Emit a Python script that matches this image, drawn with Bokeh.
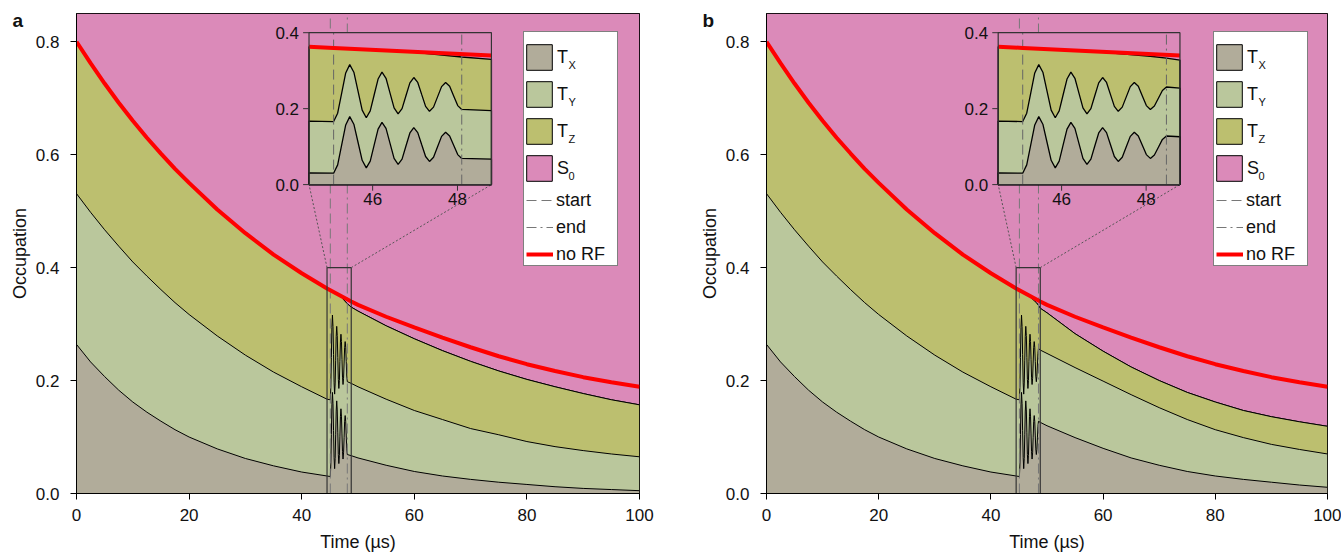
from bokeh.plotting import figure
from bokeh.layouts import row
from bokeh.models import Range1d, Legend, LegendItem, NumeralTickFormatter, FixedTicker
from bokeh.core.properties import value
from bokeh.embed import file_html
from bokeh.resources import INLINE

# ---------------- data ----------------
# before the RF pulse (shared by both panels); boundaries are cumulative tops
t_pre = [0, 2.5, 5, 7.5, 10, 12.5, 15, 17.5, 20, 25, 30, 35, 40, 44.5, 45.08]
tx_pre = [0.264, 0.233, 0.207, 0.183, 0.162, 0.144, 0.128, 0.113, 0.100, 0.079, 0.062, 0.049, 0.038, 0.031, 0.030]
ty_pre = [0.531, 0.498, 0.467, 0.438, 0.410, 0.385, 0.361, 0.338, 0.317, 0.279, 0.245, 0.215, 0.189, 0.167, 0.166]
tz_pre = [0.800, 0.762, 0.726, 0.692, 0.660, 0.630, 0.602, 0.575, 0.550, 0.503, 0.461, 0.423, 0.390, 0.363, 0.360]

# during the RF pulse (shared oscillation)
t_pulse = [45.175, 45.27, 45.365, 45.46, 45.557, 45.655, 45.753, 45.85, 45.943, 46.035, 46.128, 46.22,
           46.315, 46.41, 46.505, 46.60, 46.693, 46.785, 46.878, 46.97, 47.063, 47.155, 47.248, 47.34,
           47.435, 47.53, 47.625, 47.72, 47.815, 47.91, 48.005, 48.10]
ty_pulse = [0.188, 0.241, 0.294, 0.316, 0.296, 0.246, 0.196, 0.176, 0.194, 0.236, 0.278, 0.296,
            0.280, 0.241, 0.202, 0.186, 0.200, 0.234, 0.268, 0.282, 0.269, 0.2375, 0.206, 0.193,
            0.204, 0.231, 0.258, 0.269, 0.259, 0.2335, 0.208, 0.198]
tx_pulse = [0.052, 0.1045, 0.157, 0.179, 0.159, 0.1115, 0.064, 0.044, 0.062, 0.104, 0.146, 0.164,
            0.148, 0.1085, 0.069, 0.053, 0.067, 0.1015, 0.136, 0.150, 0.137, 0.1055, 0.074, 0.061,
            0.072, 0.0995, 0.127, 0.138, 0.128, 0.1035, 0.079, 0.069]
# panel b pulse lasts a little longer
t_pulse_b = [48.195, 48.29, 48.385, 48.48]
ty_pulse_b = [0.207, 0.2275, 0.248, 0.257]
tx_pulse_b = [0.078, 0.0985, 0.119, 0.128]

t_tz_mid_a = [46.0, 47.0, 48.1]
tz_mid_a = [0.355, 0.348, 0.336]
t_tz_mid_b = [46.0, 47.0, 48.1, 48.48]
tz_mid_b = [0.355, 0.348, 0.338, 0.333]

# after the pulse
t_post = [48.8, 50, 55, 60, 65, 70, 75, 80, 85, 90, 95, 100]
tx_post_a = [0.067, 0.063, 0.050, 0.039, 0.031, 0.025, 0.020, 0.016, 0.012, 0.009, 0.007, 0.005]
ty_post_a = [0.195, 0.189, 0.167, 0.147, 0.131, 0.115, 0.104, 0.092, 0.083, 0.076, 0.070, 0.065]
tz_post_a = [0.330, 0.323, 0.297, 0.274, 0.253, 0.234, 0.217, 0.202, 0.189, 0.177, 0.166, 0.157]
tx_post_b = [0.126, 0.120, 0.099, 0.080, 0.063, 0.050, 0.039, 0.031, 0.025, 0.020, 0.015, 0.011]
ty_post_b = [0.254, 0.248, 0.223, 0.199, 0.175, 0.152, 0.131, 0.113, 0.099, 0.087, 0.078, 0.070]
tz_post_b = [0.328, 0.320, 0.283, 0.252, 0.224, 0.200, 0.179, 0.162, 0.147, 0.136, 0.127, 0.119]

# "no RF" reference decay
t_norf = [0, 2.5, 5, 7.5, 10, 12.5, 15, 17.5, 20, 25, 30, 35, 40, 44.5, 45.08,
          48.8, 50, 55, 60, 65, 70, 75, 80, 85, 90, 95, 100]
norf = [0.800, 0.762, 0.726, 0.692, 0.660, 0.630, 0.602, 0.575, 0.550, 0.503, 0.461, 0.423, 0.390, 0.363, 0.360,
        0.340, 0.334, 0.313, 0.294, 0.276, 0.259, 0.243, 0.229, 0.217, 0.206, 0.197, 0.189]

pulse_start = {"a": 45.08, "b": 45.08}
pulse_end = {"a": 48.10, "b": 48.48}

x_ticks = [0, 20, 40, 60, 80, 100]
y_ticks = [0.0, 0.2, 0.4, 0.6, 0.8]
inset_x_ticks = [46, 48]
inset_y_ticks = [0.0, 0.2, 0.4]
inset_y_labels = ["0.0", "0.2", "0.4"]
state_letters = ["T", "T", "T", "S"]
state_subscripts = ["X", "Y", "Z", "0"]

# ---------------- style / layout ----------------
PINK = "#DB8AB9"
OLIVE = "#BCBF6F"
LGREEN = "#BAC79C"
GRAY = "#B1AC9A"
RED = "#FF0000"
FONT = "Liberation Sans"
Y_MAX = 0.85
INSET_X = (44.5, 48.8)
INSET_Y = (0.0, 0.4)
INSET_TX = (41.3, 73.7)
INSET_TY = (0.547, 0.816)
FRAME_H = 480
# legend geometry (pixels, relative to the frame)
BOX_X, BOX_TOP, BOX_W, BOX_H = 447, 20, 93, 233
P_PAD, P_GW, P_GH, P_SP, P_STAND = 4, 32, 32, 5, 2          # patch items
L_PAD, L_GW, L_GH, L_SP, L_STAND = 4, 27, 22, 5, 3          # line items
L_TOP = 148                                                  # line block top below box top
P_H = 2 * P_PAD + 4 * P_GH + 3 * P_SP
L_H = 2 * L_PAD + 3 * L_GH + 2 * L_SP
LABEL_X = BOX_X + P_PAD + P_GW + P_STAND
SUB_DX, SUB_DY = 11.5, 8


def poly(t, y, base):
    t = list(t)
    return t + t[::-1], list(y) + [base] * len(t)


def window(t, y):
    pairs = [(a, b) for a, b in zip(t, y) if INSET_X[0] <= a <= INSET_X[1]]
    return [a for a, _ in pairs], [b for _, b in pairs]


def make_panel(letter, width, left, right, tx_t, tx_y, ty_t, ty_y, tz_t, tz_y):
    p = figure(width=width, height=554, x_range=Range1d(0, 100), y_range=Range1d(0, Y_MAX),
               output_backend="svg", toolbar_location=None,
               min_border_left=left, min_border_right=right, min_border_top=13, min_border_bottom=61)
    p.background_fill_color = PINK
    p.border_fill_color = "white"
    p.outline_line_color = "black"
    p.outline_line_width = 1
    p.grid.visible = False
    for ax in (p.xaxis, p.yaxis):
        ax.axis_line_color = "black"
        ax.major_tick_line_color = "black"
        ax.major_tick_in = 0
        ax.major_tick_out = 6
        ax.minor_tick_line_color = None
        ax.major_label_text_font = FONT
        ax.major_label_text_font_size = "17px"
        ax.major_label_text_color = "#111111"
        ax.axis_label_text_font = FONT
        ax.axis_label_text_font_size = "18px"
        ax.axis_label_text_font_style = "normal"
        ax.axis_label_text_color = "#111111"
    p.xaxis.ticker = FixedTicker(ticks=x_ticks)
    p.yaxis.ticker = FixedTicker(ticks=y_ticks)
    p.yaxis.formatter = NumeralTickFormatter(format="0.0")
    p.xaxis.axis_label = "Time (µs)"
    p.yaxis.axis_label = "Occupation"
    p.xaxis.major_label_standoff = 9
    p.xaxis.axis_label_standoff = 8
    p.yaxis.major_label_standoff = 11
    p.yaxis.axis_label_standoff = 3

    xs, ys = poly(tz_t, tz_y, Y_MAX)
    r_s0 = p.patch(xs, ys, fill_color=PINK, line_color="black", line_width=1)
    xs, ys = poly(tz_t, tz_y, 0)
    r_tz = p.patch(xs, ys, fill_color=OLIVE, line_color="black", line_width=1)
    xs, ys = poly(ty_t, ty_y, 0)
    r_ty = p.patch(xs, ys, fill_color=LGREEN, line_color="black", line_width=1)
    xs, ys = poly(tx_t, tx_y, 0)
    r_tx = p.patch(xs, ys, fill_color=GRAY, line_color="black", line_width=1)

    s, e = pulse_start[letter], pulse_end[letter]
    r_start = p.segment(x0=[s], y0=[0], x1=[s], y1=[Y_MAX], line_color="#777777", line_width=1, line_dash="10 5")
    r_end = p.segment(x0=[e], y0=[0], x1=[e], y1=[Y_MAX], line_color="#777777", line_width=1, line_dash="10 4 2 4")
    r_red = p.line(t_norf, norf, line_color=RED, line_width=4)

    # zoom box and connectors
    p.quad(left=[INSET_X[0]], right=[INSET_X[1]], bottom=[INSET_Y[0]], top=[INSET_Y[1]],
           fill_color=None, line_color="#333333", line_width=1.2)
    p.segment(x0=[INSET_X[0], INSET_X[1]], y0=[INSET_Y[1], INSET_Y[1]],
              x1=[INSET_TX[0], INSET_TX[1]], y1=[INSET_TY[0], INSET_TY[0]],
              line_color="#555555", line_width=1, line_dash="2 2")

    # inset
    ins = p.subplot(x_source=Range1d(*INSET_X), y_source=Range1d(*INSET_Y),
                    x_target=Range1d(*INSET_TX), y_target=Range1d(*INSET_TY))
    ins.quad(left=[INSET_X[0]], right=[INSET_X[1]], bottom=[INSET_Y[0]], top=[INSET_Y[1]],
             fill_color=PINK, line_color=None)
    for (tt, yy, col) in ((tz_t, tz_y, OLIVE), (ty_t, ty_y, LGREEN), (tx_t, tx_y, GRAY)):
        wt, wy = window(tt, yy)
        xs, ys = poly(wt, wy, 0)
        ins.patch(xs, ys, fill_color=col, line_color="black", line_width=1.3)
    ins.segment(x0=[s], y0=[0], x1=[s], y1=[INSET_Y[1]], line_color="#666666", line_width=1, line_dash="10 5")
    ins.segment(x0=[e], y0=[0], x1=[e], y1=[INSET_Y[1]], line_color="#666666", line_width=1, line_dash="10 4 2 4")
    wt, wy = window(t_norf, norf)
    ins.line(wt, wy, line_color=RED, line_width=4)
    ins.quad(left=[INSET_X[0]], right=[INSET_X[1]], bottom=[INSET_Y[0]], top=[INSET_Y[1]],
             fill_color=None, line_color="#333333", line_width=1.2)
    ins.segment(x0=[INSET_X[0]] * 3, y0=inset_y_ticks, x1=[INSET_X[0] - 0.14] * 3, y1=inset_y_ticks,
                line_color="#333333", line_width=1)
    ins.segment(x0=inset_x_ticks, y0=[0, 0], x1=inset_x_ticks, y1=[-0.016, -0.016],
                line_color="#333333", line_width=1)
    ins.text(x=[INSET_X[0]] * 3, y=inset_y_ticks, text=inset_y_labels, x_offset=-10,
             text_align="right", text_baseline="middle", text_font=value(FONT),
             text_font_size="17px", text_color="#111111")
    ins.text(x=inset_x_ticks, y=[0, 0], text=[str(v) for v in inset_x_ticks], y_offset=8,
             text_align="center", text_baseline="top", text_font=value(FONT),
             text_font_size="17px", text_color="#111111")

    # legend: one empty box + patch block + line block + subscripts
    r_blank = p.line(x=[], y=[], line_alpha=0)
    box = Legend(items=[LegendItem(label=" ", renderers=[r_blank])],
                 location=(BOX_X, FRAME_H - BOX_TOP - BOX_H), padding=0, spacing=0, margin=0,
                 glyph_width=BOX_W, glyph_height=BOX_H, label_standoff=0, label_width=0, label_height=0,
                 label_text_font_size="1px", border_line_color="black", border_line_width=1.5,
                 background_fill_color="white", background_fill_alpha=1)
    p.add_layout(box, "center")
    patch_items = [LegendItem(label=lab, renderers=[r]) for lab, r in
                   zip(state_letters, [r_tx, r_ty, r_tz, r_s0])]
    leg1 = Legend(items=patch_items, location=(BOX_X, FRAME_H - BOX_TOP - P_H),
                  padding=P_PAD, spacing=P_SP, margin=0, glyph_width=P_GW, glyph_height=P_GH,
                  label_standoff=P_STAND, label_height=P_GH,
                  label_text_font=FONT, label_text_font_size="18px", label_text_color="#111111",
                  border_line_color=None, background_fill_alpha=0)
    p.add_layout(leg1, "center")
    sub_items = [LegendItem(label=lab, renderers=[r_blank]) for lab in state_subscripts]
    leg_sub = Legend(items=sub_items,
                     location=(LABEL_X + SUB_DX - P_PAD - 1, FRAME_H - BOX_TOP - P_H - SUB_DY),
                     padding=P_PAD, spacing=P_SP, margin=0, glyph_width=1, glyph_height=P_GH,
                     label_standoff=0, label_height=P_GH, label_width=0,
                     label_text_font=FONT, label_text_font_size="11px", label_text_color="#111111",
                     border_line_color=None, background_fill_alpha=0)
    p.add_layout(leg_sub, "center")
    line_items = [LegendItem(label="start", renderers=[r_start]), LegendItem(label="end", renderers=[r_end]),
                  LegendItem(label="no RF", renderers=[r_red])]
    leg2 = Legend(items=line_items, location=(BOX_X + 3, FRAME_H - BOX_TOP - L_TOP - L_H),
                  padding=L_PAD, spacing=L_SP, margin=0, glyph_width=L_GW, glyph_height=L_GH,
                  label_standoff=L_STAND, label_height=L_GH,
                  label_text_font=FONT, label_text_font_size="18px", label_text_color="#111111",
                  border_line_color=None, background_fill_alpha=0)
    p.add_layout(leg2, "center")

    # panel letter
    p.text(x=[0], y=[Y_MAX], text=[letter], x_offset=-64, y_offset=7, text_font=value(FONT),
           text_font_size="19px", text_font_style="bold", text_baseline="middle",
           text_color="#111111", level="overlay")
    return p


pa = make_panel("a", 696, 76, 57,
                t_pre + t_pulse + t_post, tx_pre + tx_pulse + tx_post_a,
                t_pre + t_pulse + t_post, ty_pre + ty_pulse + ty_post_a,
                t_pre + t_tz_mid_a + t_post, tz_pre + tz_mid_a + tz_post_a)
pb = make_panel("b", 645, 68, 14,
                t_pre + t_pulse + t_pulse_b + t_post, tx_pre + tx_pulse + tx_pulse_b + tx_post_b,
                t_pre + t_pulse + t_pulse_b + t_post, ty_pre + ty_pulse + ty_pulse_b + ty_post_b,
                t_pre + t_tz_mid_b + t_post, tz_pre + tz_mid_b + tz_post_b)

layout = row(pa, pb)
open("out.html", "w").write(file_html(layout, INLINE))
